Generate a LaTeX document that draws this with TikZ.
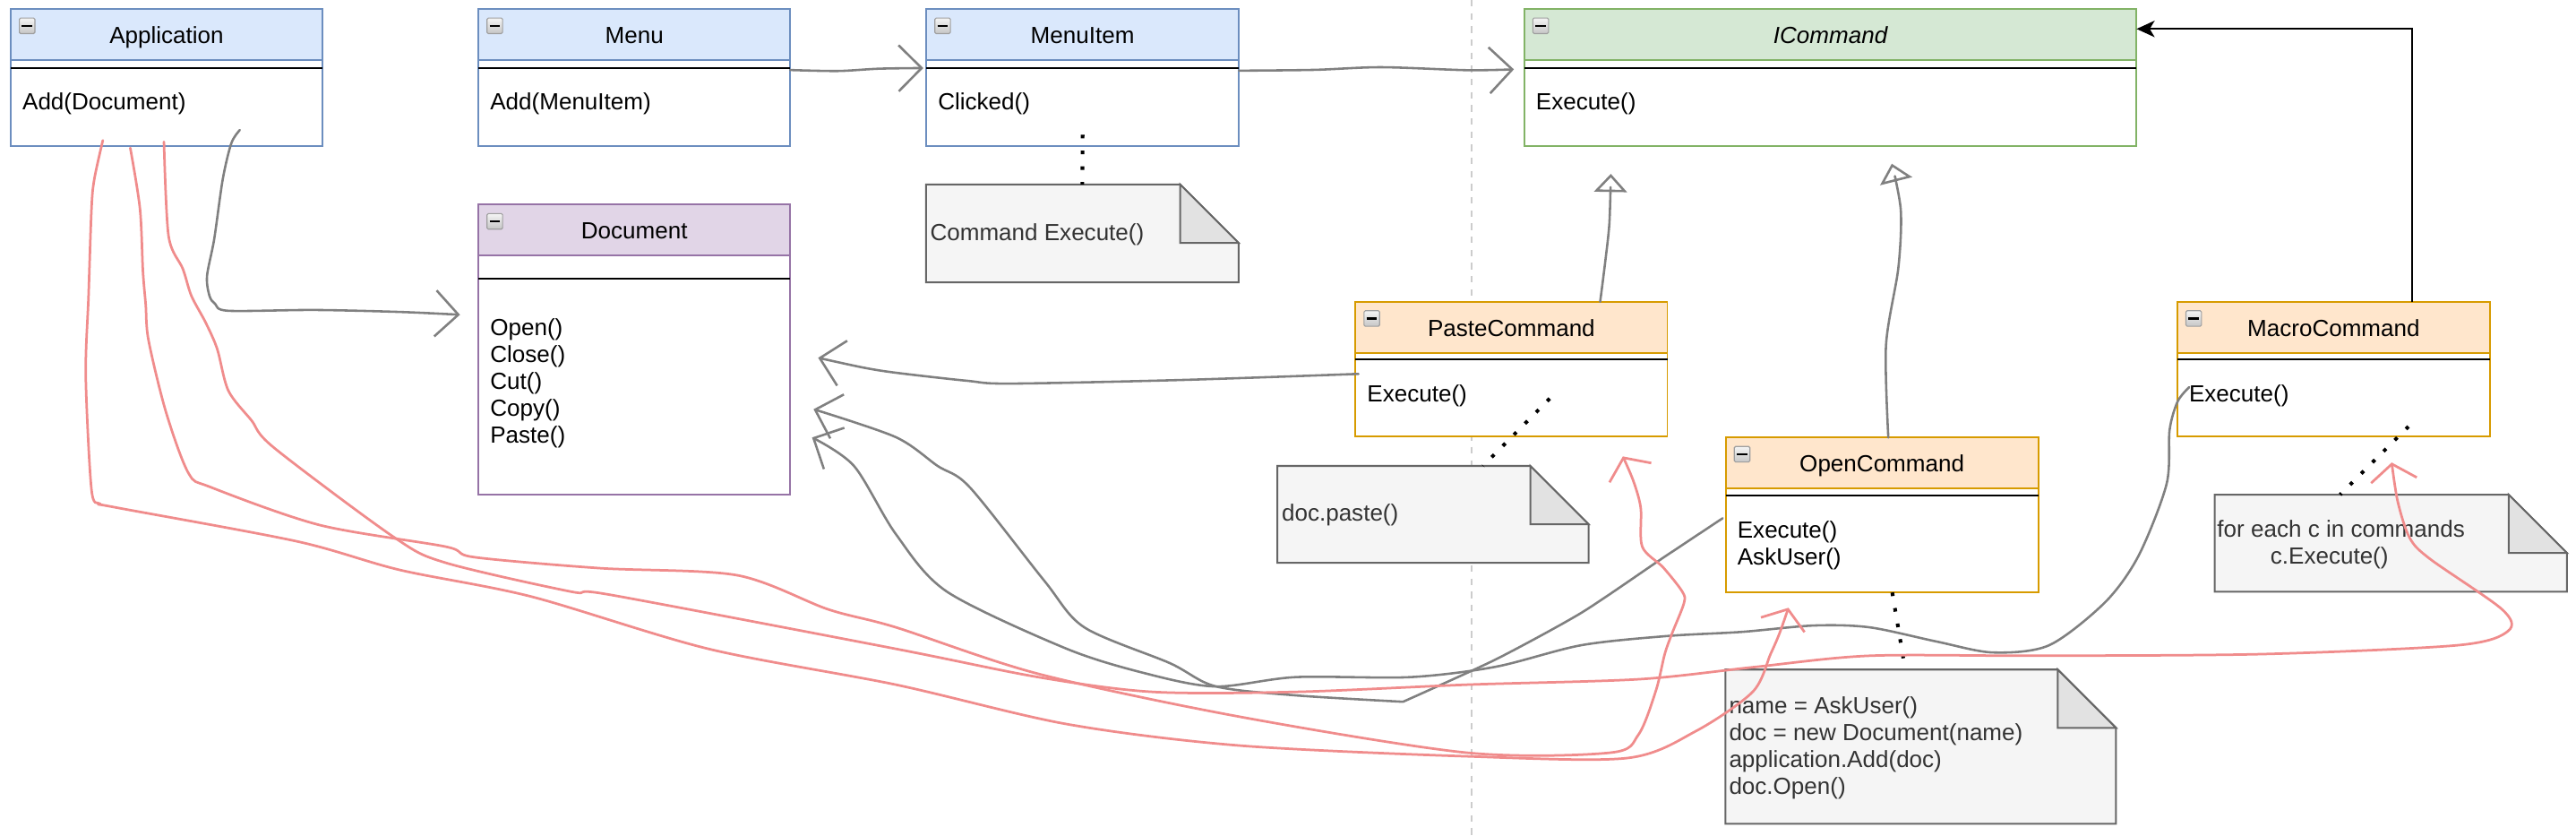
\documentclass[tikz,border=0pt]{standalone}
\usepackage{fontspec}
\setmainfont{Liberation Sans}
\usetikzlibrary{arrows.meta,calc}
\definecolor{bluF}{HTML}{DAE8FC}\definecolor{bluL}{HTML}{6C8EBF}
\definecolor{purF}{HTML}{E1D5E7}\definecolor{purL}{HTML}{9673A6}
\definecolor{grnF}{HTML}{D5E8D4}\definecolor{grnL}{HTML}{82B366}
\definecolor{orgF}{HTML}{FFE6CC}\definecolor{orgL}{HTML}{D79B00}
\definecolor{noteF}{HTML}{F5F5F5}\definecolor{noteL}{HTML}{666666}\definecolor{noteT}{HTML}{333333}
\definecolor{foldF}{HTML}{E2E2E2}
\definecolor{lineG}{HTML}{808080}
\definecolor{lineR}{HTML}{F08C8C}
\definecolor{sepC}{HTML}{CCCCCC}
% #1 name, #2 x, #3 y, #4 w, #5 h, #6 fill, #7 line, #8 title, #9 divider offset
\newcommand{\umlclass}[9]{%
  \node[clsbox, draw=#7, minimum width=#4pt, minimum height=#5pt] (#1) at (#2,#3) {};
  \path[fill=#6, draw=#7, line width=1pt] (#1.north west) rectangle ($(#1.north east)+(0,31)$);
  \draw[line width=1.2pt] ($(#1.north west)+(0,#9)$) -- ($(#1.north east)+(0,#9)$);
  \node[iconbox] (#1-icon) at ($(#1.north west)+(10,10.2)$) {};
  \draw[line width=1.2pt] ($(#1-icon.center)+(-3.2,0)$) -- ($(#1-icon.center)+(3.2,0)$);
  \node[ttl] (#1-title) at ($(#1.north)+(0,21)$) {#8};
}
% #1 name, #2 x, #3 y, #4 w, #5 h
\newcommand{\umlnote}[5]{%
  \node[inner sep=0pt, outer sep=0pt, minimum width=#4pt, minimum height=#5pt, anchor=north west] (#1) at (#2,#3) {};
  \filldraw[notebody] (#1.north west) -- ($(#1.north east)+(-35.5,0)$) -- ($(#1.north east)+(0,35.5)$) -- (#1.south east) -- (#1.south west) -- cycle;
  \filldraw[notefold] ($(#1.north east)+(-35.5,0)$) -- ($(#1.north east)+(-35.5,35.5)$) -- ($(#1.north east)+(0,35.5)$) -- cycle;
}
\begin{document}
\begin{tikzpicture}[x=1pt,y=-1pt,
  clsbox/.style={rectangle, draw, fill=white, line width=1pt, inner sep=0pt, outer sep=0pt, anchor=north west},
  iconbox/.style={rectangle, draw=gray!75, line width=0.6pt, top color=gray!8, bottom color=gray!45, minimum size=9.5pt, inner sep=0pt, rounded corners=0.8pt},
  ttl/.style={inner sep=0pt, anchor=base, font=\fontsize{14.2}{16.4}\selectfont},
  mtxt/.style={inner sep=0pt, anchor=base west, font=\fontsize{14.2}{16.4}\selectfont},
  ntxt/.style={mtxt, text=noteT},
  notebody/.style={fill=noteF, draw=noteL, line width=1.1pt},
  notefold/.style={fill=foldF, draw=noteL, line width=1.1pt},
  sepline/.style={draw=sepC, line width=0.8pt, dash pattern=on 4pt off 4pt},
  gline/.style={draw=lineG, line width=1.4pt, line cap=round, line join=round},
  garrow/.style={gline, -{Straight Barb[length=14pt,width=28pt]}},
  gtri/.style={gline, -{Triangle[open, length=11pt, width=20pt]}},
  rline/.style={draw=lineR, line width=1.5pt, line cap=round, line join=round},
  rarrow/.style={rline, -{Straight Barb[length=10pt,width=28pt]}},
  dots/.style={draw=black, line width=2.2pt, dash pattern=on 2.2pt off 7.4pt},
  bline/.style={draw=black, line width=1.2pt, -{Stealth[length=11pt,width=10pt,inset=3pt]}}
]
\useasboundingbox (0,0) rectangle (1568,508.13);
\fill[white] (0,0) rectangle (1568,508.13);
\coordinate (sepT) at (895.8,0);
\coordinate (sepB) at (895.8,508.13);
\draw[sepline] (sepT) -- (sepB);

% classes
\umlclass{app}{6.5}{5.5}{189.8}{83.3}{bluF}{bluL}{Application}{35.8}
\umlclass{menu}{291.2}{5.5}{189.8}{83.3}{bluF}{bluL}{Menu}{35.8}
\umlclass{item}{563.8}{5.5}{190.2}{83.3}{bluF}{bluL}{MenuItem}{35.8}
\umlclass{icmd}{927.8}{5.5}{372.7}{83.3}{grnF}{grnL}{\itshape ICommand}{35.8}
\umlclass{doc}{291.2}{124.5}{189.8}{176.5}{purF}{purL}{Document}{45}
\umlclass{paste}{825}{183.6}{189.9}{82}{orgF}{orgL}{PasteCommand}{35.2}
\umlclass{open}{1050.4}{266.2}{190.3}{94.3}{orgF}{orgL}{OpenCommand}{35.5}
\umlclass{macro}{1325.3}{183.6}{190.3}{82}{orgF}{orgL}{MacroCommand}{35.2}

\node[mtxt] (app-m1) at ($(app.north west)+(7,61.4)$) {Add(Document)};
\node[mtxt] (menu-m1) at ($(menu.north west)+(7,61.4)$) {Add(MenuItem)};
\node[mtxt] (item-m1) at ($(item.north west)+(7,61.4)$) {Clicked()};
\node[mtxt] (icmd-m1) at ($(icmd.north west)+(7,61.4)$) {Execute()};
\node[mtxt] (doc-m1) at ($(doc.north west)+(7,79.6)$) {Open()};
\node[mtxt] (doc-m2) at ($(doc.north west)+(7,96.0)$) {Close()};
\node[mtxt] (doc-m3) at ($(doc.north west)+(7,112.4)$) {Cut()};
\node[mtxt] (doc-m4) at ($(doc.north west)+(7,128.8)$) {Copy()};
\node[mtxt] (doc-m5) at ($(doc.north west)+(7,145.2)$) {Paste()};
\node[mtxt] (paste-m1) at ($(paste.north west)+(7,61.1)$) {Execute()};
\node[mtxt] (open-m1) at ($(open.north west)+(7,61)$) {Execute()};
\node[mtxt] (open-m2) at ($(open.north west)+(7,77.4)$) {AskUser()};
\node[mtxt] (macro-m1) at ($(macro.north west)+(7,61.1)$) {Execute()};

% notes
\umlnote{n1}{563.7}{112.3}{190.2}{59.5}
\node[ntxt] (n1-t) at (566,146.3) {Command Execute()};
\umlnote{n2}{777.5}{283.5}{189.5}{58.9}
\node[ntxt] (n2-t) at (780,317.3) {doc.paste()};
\umlnote{n3}{1050.2}{407.4}{237.8}{93.8}
\node[ntxt] (n3-t1) at (1052.3,434) {name = AskUser()};
\node[ntxt] (n3-t2) at (1052.3,450.4) {doc = new Document(name)};
\node[ntxt] (n3-t3) at (1052.3,466.8) {application.Add(doc)};
\node[ntxt] (n3-t4) at (1052.3,483.2) {doc.Open()};
\umlnote{n4}{1348}{301}{214.5}{59}
\node[ntxt] (n4-t1) at (1349.4,326.8) {for each c in commands};
\node[ntxt] (n4-t2) at (1381.8,343.2) {c.Execute()};

% note links
\coordinate (d1a) at (659,82);
\draw[dots] (d1a) -- (n1.north);
\coordinate (d2a) at (943.3,242.5); \coordinate (d2b) at (902.7,283.5);
\draw[dots] (d2a) -- (d2b);
\coordinate (d3a) at (1151.8,360.5); \coordinate (d3b) at (1159.7,407.4);
\draw[dots] (d3a) -- (d3b);
\coordinate (d4a) at (1466,259.5); \coordinate (d4b) at (1424.4,301);
\draw[dots] (d4a) -- (d4b);

% endpoints
\coordinate (menuR) at (481,42.6);  \coordinate (itemA) at (562,41.4);
\coordinate (itemR) at (754.1,43);  \coordinate (icmdA) at (921.5,42.2);
\coordinate (appG) at (146,79.1);   \coordinate (docA0) at (280,191.5);
\coordinate (pasteL) at (826.9,227.5); \coordinate (docA1) at (498,217.7);
\coordinate (openL) at (1048.6,315.3); \coordinate (docA2) at (495.2,249);
\coordinate (macroL) at (1332.5,235.6); \coordinate (docA3) at (494.3,266.2);
\coordinate (pasteT) at (974,183.6); \coordinate (pasteTri) at (980.5,105.8);
\coordinate (openT) at (1149.4,266.2); \coordinate (openTri) at (1151.5,99.6);
\coordinate (macroT) at (1468,183.6); \coordinate (icmdB) at (1300.5,17.6);

% grey connectors
\draw[garrow] plot[smooth,tension=0.5] coordinates {(menuR) (510,43.2) (535,41.8) (itemA)};
\draw[garrow] plot[smooth,tension=0.5] coordinates {(itemR) (800,42.5) (840.7,40.9) (893,42.7) (icmdA)};
\draw[garrow] plot[smooth,tension=0.5] coordinates {(appG) (140.8,87.2) (135.6,109) (130.4,145.4) (126,168) (127.5,180) (131,185) (139.1,189.1) (191.3,188.6) (243.4,189.8) (docA0)};
\draw[garrow] plot[smooth,tension=0.5] coordinates {(pasteL) (719.1,231.2) (614.8,233.4) (588.8,231.7) (545.3,226.8) (525.2,223.6) (docA1)};
\draw[garrow] plot[smooth,tension=0.4] coordinates {(openL) (1011.1,340.2) (962.5,372.9) (910.3,401.3) (854,427)}
  -- plot[smooth,tension=0.5] coordinates {(854,427) (788.6,423.1) (739.9,417.6) (712.1,403.5) (660,381.7) (635.6,353.3) (590.4,296.6) (570.7,283.5) (545.3,266) (docA2)};
\draw[garrow] plot[smooth,tension=0.5] coordinates {(macroL) (1325.5,244.3) (1320.6,261.7) (1318.8,294.4) (1301.8,338) (1281.4,366.4) (1247.3,392.6) (1213,397) (1179,390.4) (1138,381.7) (1104,380.6) (1060,384.5) (1014.7,387) (962.4,392.6) (910.4,405.7) (858.3,412) (788.6,412) (740,417.7) (698.3,410) (649.4,394.8) (576.4,360) (545.3,325) (519.8,283.5) (docA3)};
\draw[gtri] plot[smooth,tension=0.5] coordinates {(pasteT) (977,160) (979.6,136) (pasteTri)};
\draw[gtri] plot[smooth,tension=0.5] coordinates {(openT) (1148,210) (1155.5,163) (1157,128) (openTri)};
\draw[bline] (macroT) |- (icmdB);

% red connectors
\coordinate (r1s) at (62.6,85.4); \coordinate (r1e) at (1088.6,369.8);
\coordinate (r2s) at (79.3,90);   \coordinate (r2e) at (987.8,277.7);
\coordinate (r3s) at (99.8,86.3); \coordinate (r3e) at (1455.8,281.4);
\draw[rarrow] plot[smooth,tension=0.5] coordinates {(r1s) (57.4,109) (55.7,127) (53.9,180) (52.2,229) (55.7,298) (60.9,306.5) (69.6,308.6) (180.8,329.4) (243.4,346.8) (323.4,363) (431.2,394.8) (545.3,416.6) (649.4,440.6) (754,453.6) (893,460.2) (990,461.3) (1032,445) (1066.8,421) (1077.7,398) (1083.2,385.3) (r1e)};
\draw[rarrow] plot[smooth,tension=0.5] coordinates {(r2s) (85.2,127) (87,165) (88.7,185.4) (90.4,207) (101,250.6) (114.8,288) (128.7,296.6) (194.7,319.5) (271.2,332.6) (288.6,339) (365,345.7) (448.6,350) (504.2,370.8) (545.3,381.7) (632,410) (754,436) (893,458) (980,458) (997.3,447) (1008,420) (1013.3,398) (1017.8,385.3) (1025,367) (1024,360) (1012.4,345.3) (999.6,332.6) (998.7,309) (994.2,292.6) (r2e)};
\draw[rarrow] plot[smooth,tension=0.5] coordinates {(r3s) (102.6,143.6) (111.3,163.6) (116.5,180) (125.2,196.3) (132.2,212.3) (139,237.7) (153,255.7) (167,272.6) (240,327) (271.2,342.4) (347.7,360) (372,362) (545.3,394.8) (632,412) (701.8,421) (788.5,421) (893,416.6) (997.3,413.3) (1066.8,406) (1138,399) (1240.5,399) (1376.8,398) (1496,392.6) (1526.7,383.9) (1523,370.8) (1479,340) (1466.7,327.2) (1459.5,305.3) (r3e)};
\end{tikzpicture}
\end{document}
